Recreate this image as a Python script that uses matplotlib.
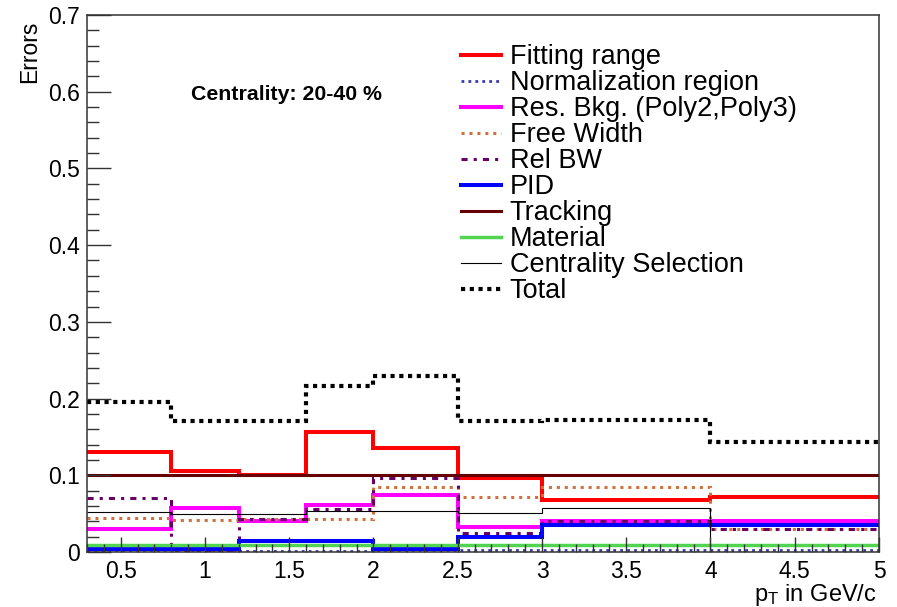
import matplotlib
matplotlib.use("Agg")
import matplotlib.pyplot as plt
from matplotlib.ticker import MultipleLocator, FuncFormatter

# ==========================================
# DATA : systematic errors per pT bin
# ==========================================

pt_edges = [0.3, 0.8, 1.2, 1.6, 2.0, 2.5, 3.0, 4.0, 5.0]

fitting_range = [0.130, 0.105, 0.100, 0.157, 0.135, 0.096, 0.068, 0.072]
norm_region = [0.002, 0.002, 0.001, 0.001, 0.002, 0.002, 0.002, 0.002]
res_bkg = [0.030, 0.058, 0.040, 0.061, 0.074, 0.032, 0.040, 0.040]
free_width = [0.044, 0.042, 0.043, 0.043, 0.085, 0.072, 0.085, 0.030]
rel_bw = [0.071, 0.001, 0.043, 0.056, 0.096, 0.025, 0.040, 0.030]
pid = [0.004, 0.004, 0.014, 0.014, 0.004, 0.019, 0.035, 0.035]
tracking = [0.100, 0.100, 0.100, 0.100, 0.100, 0.100, 0.100, 0.100]
material = [0.009, 0.009, 0.009, 0.009, 0.009, 0.009, 0.009, 0.009]
centrality_sel = [0.052, 0.050, 0.050, 0.053, 0.053, 0.051, 0.057, 0.0]
total = [0.195, 0.171, 0.171, 0.216, 0.230, 0.171, 0.172, 0.144]

# ==========================================
# STYLE
# ==========================================

plt.rcParams['font.family'] = ['Liberation Sans', 'DejaVu Sans']
plt.rcParams['mathtext.fontset'] = 'custom'
plt.rcParams['mathtext.rm'] = 'Liberation Sans'
plt.rcParams['mathtext.it'] = 'Liberation Sans'

fig = plt.figure(figsize=(8.97, 6.07), dpi=100)
ax = fig.add_axes([87 / 897, 55 / 607, 792 / 897, 537 / 607])

series = [
    (fitting_range, "Fitting range", dict(color='#ff0000', lw=2.9, ls='-')),
    (norm_region, "Normalization region", dict(color='#3a3aae', lw=2.0, ls=(0, (1, 1.5)))),
    (res_bkg, "Res. Bkg. (Poly2,Poly3)", dict(color='#ff00ff', lw=2.9, ls='-')),
    (free_width, "Free Width", dict(color='#d0703a', lw=2.2, ls=(0, (1, 1.6)))),
    (rel_bw, "Rel BW", dict(color='#660066', lw=2.2, ls=(0, (2, 2, 1, 2)))),
    (pid, "PID", dict(color='#0000ff', lw=2.9, ls='-')),
    (tracking, "Tracking", dict(color='#660000', lw=2.2, ls='-')),
    (material, "Material", dict(color='#52d452', lw=2.5, ls='-')),
    (centrality_sel, "Centrality Selection", dict(color='black', lw=0.8, ls='-')),
    (total, "Total", dict(color='black', lw=3.0, ls=(0, (1, 1.1)))),
]

for values, label, style in series:
    ax.stairs(values, pt_edges, baseline=None, label=label,
              color=style['color'], linewidth=style['lw'], linestyle=style['ls'])

# ==========================================
# AXES
# ==========================================

ax.set_xlim(0.3, 5.0)
ax.set_ylim(0, 0.7)

ax.xaxis.set_major_locator(MultipleLocator(0.5))
ax.xaxis.set_minor_locator(MultipleLocator(0.1))
ax.yaxis.set_major_locator(MultipleLocator(0.1))
ax.yaxis.set_minor_locator(MultipleLocator(0.02))

fmt = FuncFormatter(lambda v, p: f"{v:g}")
ax.xaxis.set_major_formatter(fmt)
ax.yaxis.set_major_formatter(fmt)

ax.tick_params(axis='both', which='both', direction='in', top=False, right=False,
               labelsize=16.5, width=1.0, color='#333333')
ax.tick_params(axis='y', which='major', length=17, pad=5)
ax.tick_params(axis='y', which='minor', length=8.5)
ax.tick_params(axis='x', which='major', length=11, pad=6)
ax.tick_params(axis='x', which='minor', length=5.5)

for spine in ax.spines.values():
    spine.set_linewidth(1.1)
    spine.set_color('#333333')

ax.set_ylabel("Errors", fontsize=16.5, loc='top')
ax.yaxis.set_label_coords(-0.058, 0.99)

ax.set_xlabel(r"$\mathregular{p_{T}}$ in GeV/c", fontsize=17, loc='right')
ax.xaxis.label.set_va('baseline')
ax.xaxis.set_label_coords(0.9975, -0.092)

ax.text(0.131, 0.852, "Centrality: 20-40 %", transform=ax.transAxes,
        fontsize=15.3, fontweight='bold', ha='left', va='center')

# ==========================================
# LEGEND
# ==========================================

ax.legend(loc='upper left', bbox_to_anchor=(0.472, 0.946), frameon=False,
          fontsize=19.5, handlelength=1.5, handletextpad=0.3,
          labelspacing=0.0, borderpad=0, borderaxespad=0)

fig.savefig("out.png", dpi=100)
